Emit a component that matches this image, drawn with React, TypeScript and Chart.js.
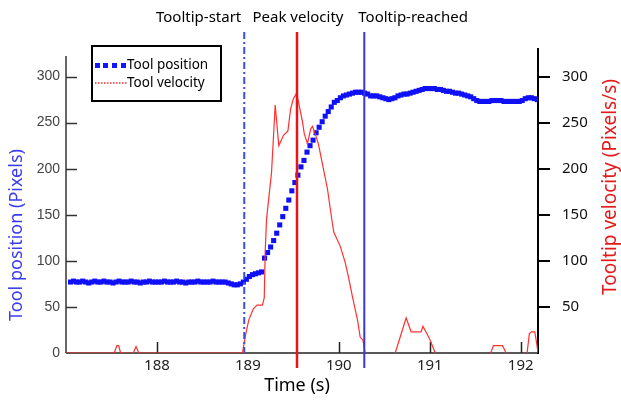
import React, { useEffect, useRef } from "react";
import { Chart, registerables } from "chart.js";

Chart.register(...registerables);

// ---- axis ticks ----
const X_TICKS = [188, 189, 190, 191, 192];
const Y_LEFT_TICKS = [0, 50, 100, 150, 200, 250, 300];
const Y_RIGHT_TICKS = [50, 100, 150, 200, 250, 300];
const X_MIN = 187;
const X_MAX = 192.19;
const Y_MAX = 331;

// ---- Tool position: sampled at 30 Hz starting at POS_START ----
const POS_START = 187.05;
const POS_RATE = 30;
const POSITION = [
  77, 78, 77, 77, 78, 77, 76, 77, 78, 77,
  77, 78, 77, 77, 76, 77, 78, 77, 77, 77,
  78, 77, 77, 76, 77, 77, 78, 77, 77, 77,
  77, 78, 77, 77, 77, 78, 77, 77, 76, 77,
  77, 77, 78, 77, 77, 77, 77, 78, 77, 77,
  77, 77, 76, 75, 74, 74, 75, 77, 80, 83, 85, 86, 87, 88,
  103, 109, 115, 122, 130, 139, 148, 157, 166, 176,
  185, 193, 202, 209, 218, 225, 231, 239, 245, 251,
  257, 262, 267, 272, 274, 277, 279, 280, 281, 282,
  283, 283, 283, 282, 281,
  279, 279, 279, 278, 277, 276, 275, 276, 277, 279,
  280, 281, 281, 282, 283, 284, 285, 286, 287, 287,
  287, 287, 286, 286, 285, 284, 284, 283, 282, 282,
  281, 280, 279, 278, 276, 274, 273, 273, 273, 273,
  274, 274, 274, 274, 273, 273, 273, 273, 273, 273,
  274, 276, 277, 277, 276, 275,
];

// ---- Tool velocity: polyline vertices (null = gap) ----
const VEL_TIME = [
  187.0, 187.53, 187.56, 187.58, 187.6, 187.74, 187.77, 187.8, 188.94, 188.975,
  189.01, 189.06, 189.1, 189.16, 189.18, 189.19, 189.205, 189.26, 189.28, 189.3,
  189.34, 189.39, 189.44, 189.47, 189.5, 189.535, 189.555, 189.6, 189.62, 189.655,
  189.69, 189.71, 189.74, 189.775, 189.82, 189.875, 189.93, 189.945, 190.015, 190.07,
  190.105, 190.15, 190.205, 190.235, 190.265, 190.29, 190.45, 190.62, 190.74, 190.795,
  190.905, 190.925, 191.0, 191.06, 191.3, 191.67, 191.7, 191.8, 191.84, 191.95,
  192.07, 192.095, 192.12, 192.155, 192.175, 192.19,
];
const VEL_VALUE: (number | null)[] = [
  0, 0, 8, 8, 0, 0, 7, 0, 0, 20,
  36, 48, 52, 52, 60, 109, 145, 196, 232, 269,
  225, 236, 241, 265, 276, 282, 273, 251, 238, 227,
  243, 246, 238, 227, 205, 178, 140, 131, 116, 98,
  83, 61, 36, 17, 14, 0, null, 0, 38, 23,
  23, 29, 15, 0, null, 0, 8, 8, 0, null,
  0, 21, 23, 23, 11, 0,
];

// ---- event markers ----
const MARKER_LABELS = ["Tooltip-start", "Peak velocity", "Tooltip-reached"];
const MARKER_TIMES = [188.96, 189.54, 190.28];

const LEGEND_LABELS = ["Tool position", "Tool velocity"];

const FONT = "'Noto Sans', 'DejaVu Sans', sans-serif";

const overlay = {
  id: "overlay",
  beforeDatasetsDraw(chart: any) {
    const { ctx, chartArea: a, scales } = chart;
    ctx.save();
    const line = (x1: number, y1: number, x2: number, y2: number) => {
      ctx.beginPath();
      ctx.moveTo(x1, y1);
      ctx.lineTo(x2, y2);
      ctx.stroke();
    };
    // left axis
    ctx.strokeStyle = "#333";
    ctx.lineWidth = 1.5;
    line(a.left, a.top + 8, a.left, a.bottom);
    Y_LEFT_TICKS.forEach((v) => {
      if (v === 0) return;
      const y = Math.round(scales.y.getPixelForValue(v)) + 0.5;
      line(a.left, y, a.left + 11, y);
    });
    // bottom axis
    ctx.strokeStyle = "#222";
    line(a.left, a.bottom, a.right, a.bottom);
    X_TICKS.forEach((v) => {
      if (v === 189) return;
      const x = Math.round(scales.x.getPixelForValue(v)) + 0.5;
      line(x, a.bottom, x, a.bottom - 11);
    });
    // right axis
    ctx.strokeStyle = "#000";
    ctx.lineWidth = 2;
    line(a.right, a.top, a.right, a.bottom + 1);
    Y_RIGHT_TICKS.forEach((v) => {
      const y = Math.round(scales.y1.getPixelForValue(v));
      line(a.right, y, a.right + 12, y);
    });
    ctx.restore();
  },
  afterDatasetsDraw(chart: any) {
    const { ctx, chartArea: a, scales } = chart;
    ctx.save();
    const top = 32;
    const xs = MARKER_TIMES.map((t) => scales.x.getPixelForValue(t));
    // Tooltip-start: dash-dot
    ctx.strokeStyle = "#3a4fd8";
    ctx.lineWidth = 2;
    ctx.setLineDash([7, 3, 2, 3]);
    ctx.beginPath();
    ctx.moveTo(xs[0], top);
    ctx.lineTo(xs[0], a.bottom);
    ctx.stroke();
    ctx.setLineDash([]);
    // Peak velocity
    ctx.strokeStyle = "#e8141c";
    ctx.lineWidth = 2.5;
    ctx.beginPath();
    ctx.moveTo(xs[1], top);
    ctx.lineTo(xs[1], a.bottom + 15);
    ctx.stroke();
    // Tooltip-reached
    ctx.strokeStyle = "#3838d4";
    ctx.lineWidth = 2;
    ctx.beginPath();
    ctx.moveTo(xs[2], top);
    ctx.lineTo(xs[2], a.bottom + 15);
    ctx.stroke();

    // marker labels
    ctx.fillStyle = "#000";
    ctx.font = `15px ${FONT}`;
    ctx.textBaseline = "middle";
    ctx.textAlign = "right";
    ctx.fillText(MARKER_LABELS[0], xs[0] - 3, 18);
    ctx.textAlign = "center";
    ctx.fillText(MARKER_LABELS[1], xs[1] + 1, 18);
    ctx.textAlign = "left";
    ctx.fillText(MARKER_LABELS[2], xs[2] - 6, 18);

    // axis titles
    ctx.textAlign = "center";
    ctx.font = `18px ${FONT}`;
    ctx.fillText("Time (s)", 297, 386);
    ctx.save();
    ctx.translate(17, 235);
    ctx.rotate(-Math.PI / 2);
    ctx.fillStyle = "#3b3bf0";
    ctx.fillText("Tool position (Pixels)", 0, 0);
    ctx.restore();
    ctx.save();
    ctx.translate(611, 187);
    ctx.rotate(-Math.PI / 2);
    ctx.fillStyle = "#e41a1a";
    ctx.font = `19px ${FONT}`;
    ctx.fillText("Tooltip velocity (Pixels/s)", 0, 0);
    ctx.restore();

    // legend
    ctx.fillStyle = "#fff";
    ctx.fillRect(92, 46, 129, 55);
    ctx.strokeStyle = "#000";
    ctx.lineWidth = 2;
    ctx.strokeRect(92, 46, 129, 55);
    ctx.fillStyle = "#1414ff";
    [95, 103, 112, 121].forEach((x) => ctx.fillRect(x, 63, 5, 5));
    ctx.strokeStyle = "#ff2a2a";
    ctx.lineWidth = 1.5;
    ctx.setLineDash([1.5, 1.5]);
    ctx.beginPath();
    ctx.moveTo(95, 83);
    ctx.lineTo(127, 83);
    ctx.stroke();
    ctx.setLineDash([]);
    ctx.fillStyle = "#000";
    ctx.textAlign = "left";
    ctx.font = `13.5px ${FONT}`;
    ctx.fillText(LEGEND_LABELS[0], 127, 65);
    ctx.fillText(LEGEND_LABELS[1], 127, 83);
    ctx.restore();
  },
};

export default function App() {
  const ref = useRef<HTMLCanvasElement | null>(null);
  useEffect(() => {
    if (!ref.current) return;
    const posData = POSITION.map((v, i) => ({ x: POS_START + i / POS_RATE, y: v }));
    const velData = VEL_TIME.map((t, i) => ({ x: t, y: VEL_VALUE[i] }));
    const chart = new Chart(ref.current, {
      type: "scatter",
      data: {
        datasets: [
          {
            label: LEGEND_LABELS[1],
            data: velData as any,
            yAxisID: "y1",
            showLine: true,
            borderColor: "#ff3030",
            borderWidth: 1.2,
            pointRadius: 0,
            spanGaps: false,
            order: 0,
          } as any,
          {
            label: LEGEND_LABELS[0],
            data: posData,
            yAxisID: "y",
            showLine: false,
            pointStyle: "rect",
            pointRadius: 3.6,
            backgroundColor: "#1010f8",
            borderWidth: 0,
            order: 1,
          } as any,
        ],
      },
      options: {
        animation: false,
        responsive: false,
        events: [],
        layout: { padding: { top: 48, left: 0, right: 0, bottom: 0 } },
        plugins: { legend: { display: false }, tooltip: { enabled: false } },
        scales: {
          x: {
            type: "linear",
            min: X_MIN,
            max: X_MAX,
            afterFit(s: any) {
              s.height = 48;
            },
            afterBuildTicks(s: any) {
              s.ticks = X_TICKS.map((v) => ({ value: v }));
            },
            grid: { display: false, drawTicks: false },
            border: { display: false },
            ticks: {
              padding: 4,
              color: "#222",
              font: { family: FONT, size: 15 },
              maxRotation: 0,
              autoSkip: false,
              callback: (v: any) => String(v),
            },
          },
          y: {
            position: "left",
            min: 0,
            max: Y_MAX,
            afterFit(s: any) {
              s.width = 66;
            },
            afterBuildTicks(s: any) {
              s.ticks = Y_LEFT_TICKS.map((v) => ({ value: v }));
            },
            grid: { display: false, drawTicks: false },
            border: { display: false },
            ticks: {
              padding: 6,
              color: "#444",
              font: { family: "'Liberation Sans', Arial, sans-serif", size: 14 },
              callback: (v: any) => String(v),
            },
          },
          y1: {
            position: "right",
            min: 0,
            max: Y_MAX,
            afterFit(s: any) {
              s.width = 83;
            },
            afterBuildTicks(s: any) {
              s.ticks = Y_RIGHT_TICKS.map((v) => ({ value: v }));
            },
            grid: { display: false, drawTicks: false },
            border: { display: false },
            ticks: {
              padding: 24,
              color: "#111",
              font: { family: FONT, size: 15 },
              callback: (v: any) => String(v),
            },
          },
        },
      } as any,
      plugins: [overlay],
    });
    return () => chart.destroy();
  }, []);
  return (
    <div style={{ position: "absolute", left: 0, top: 0, width: 621, height: 401, background: "#fff" }}>
      <canvas ref={ref} width={621} height={401} style={{ display: "block" }} />
    </div>
  );
}
